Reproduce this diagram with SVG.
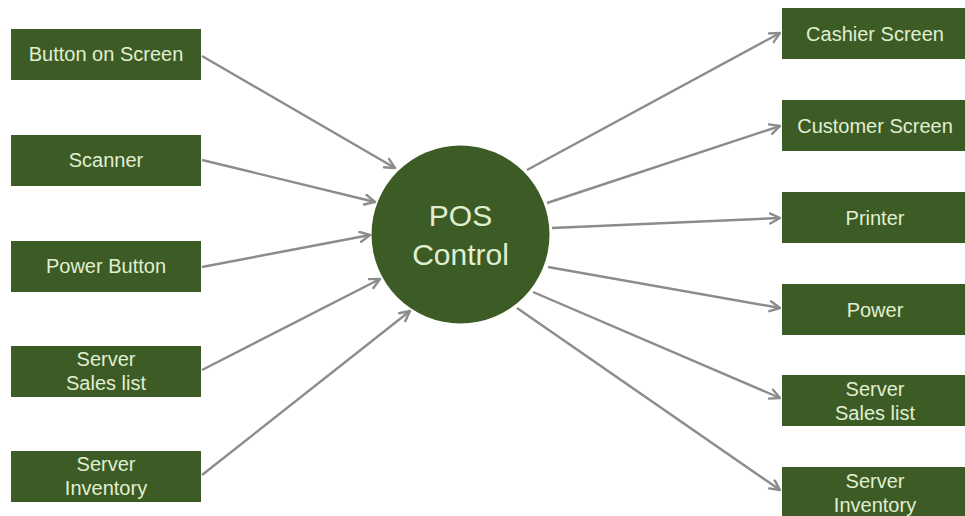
<svg xmlns="http://www.w3.org/2000/svg" width="965" height="516" viewBox="0 0 965 516">
<style>
.box{fill:#3d5b24;}
.lbl{font-family:"Liberation Sans",Arial,sans-serif;font-size:20px;fill:#e0efd2;text-anchor:middle;}
.big{font-family:"Liberation Sans",Arial,sans-serif;font-size:30px;fill:#e0efd2;text-anchor:middle;}
.conn line{stroke:#8c8c8c;stroke-width:2.4;fill:none;marker-end:url(#arr);}
</style>
<defs>
<marker id="arr" markerUnits="userSpaceOnUse" markerWidth="16" markerHeight="16" refX="11" refY="6" orient="auto">
<path d="M1,1 L11,6 L1,11" fill="none" stroke="#8c8c8c" stroke-width="2.4" stroke-linecap="round" stroke-linejoin="round"/>
</marker>
</defs>
<rect width="965" height="516" fill="#ffffff"/>
<g class="conn">
<line x1="202" y1="56" x2="395" y2="168"/>
<line x1="202" y1="160" x2="375" y2="202"/>
<line x1="202" y1="267" x2="370" y2="235"/>
<line x1="202" y1="370" x2="380" y2="279"/>
<line x1="202" y1="475" x2="410" y2="311"/>
<line x1="527" y1="170" x2="780" y2="33"/>
<line x1="547" y1="203" x2="780" y2="126"/>
<line x1="552" y1="228" x2="780" y2="218"/>
<line x1="548" y1="267" x2="780" y2="308"/>
<line x1="533" y1="292" x2="780" y2="398"/>
<line x1="517" y1="308" x2="780" y2="490"/>
</g>
<g id="pos-control">
<circle cx="460.5" cy="234.5" r="89" class="box"/>
<text class="big" x="460.5" y="226">POS</text>
<text class="big" x="460.5" y="265">Control</text>
</g>
<g id="in-button-on-screen">
<rect class="box" x="11" y="29" width="190" height="51"/>
<text class="lbl" x="106" y="61">Button on Screen</text>
</g>
<g id="in-scanner">
<rect class="box" x="11" y="135" width="190" height="51"/>
<text class="lbl" x="106" y="167">Scanner</text>
</g>
<g id="in-power-button">
<rect class="box" x="11" y="241" width="190" height="51"/>
<text class="lbl" x="106" y="273">Power Button</text>
</g>
<g id="in-server-sales-list">
<rect class="box" x="11" y="346" width="190" height="51"/>
<text class="lbl" x="106" y="366">Server</text>
<text class="lbl" x="106" y="390">Sales list</text>
</g>
<g id="in-server-inventory">
<rect class="box" x="11" y="451" width="190" height="51"/>
<text class="lbl" x="106" y="471">Server</text>
<text class="lbl" x="106" y="495">Inventory</text>
</g>
<g id="out-cashier-screen">
<rect class="box" x="782" y="8" width="183" height="51"/>
<text class="lbl" x="875" y="41">Cashier Screen</text>
</g>
<g id="out-customer-screen">
<rect class="box" x="782" y="100" width="183" height="51"/>
<text class="lbl" x="875" y="133">Customer Screen</text>
</g>
<g id="out-printer">
<rect class="box" x="782" y="192" width="183" height="51"/>
<text class="lbl" x="875" y="225">Printer</text>
</g>
<g id="out-power">
<rect class="box" x="782" y="284" width="183" height="51"/>
<text class="lbl" x="875" y="317">Power</text>
</g>
<g id="out-server-sales-list">
<rect class="box" x="782" y="375" width="183" height="51"/>
<text class="lbl" x="875" y="396">Server</text>
<text class="lbl" x="875" y="420">Sales list</text>
</g>
<g id="out-server-inventory">
<rect class="box" x="782" y="467" width="183" height="51"/>
<text class="lbl" x="875" y="488">Server</text>
<text class="lbl" x="875" y="512">Inventory</text>
</g>
</svg>
